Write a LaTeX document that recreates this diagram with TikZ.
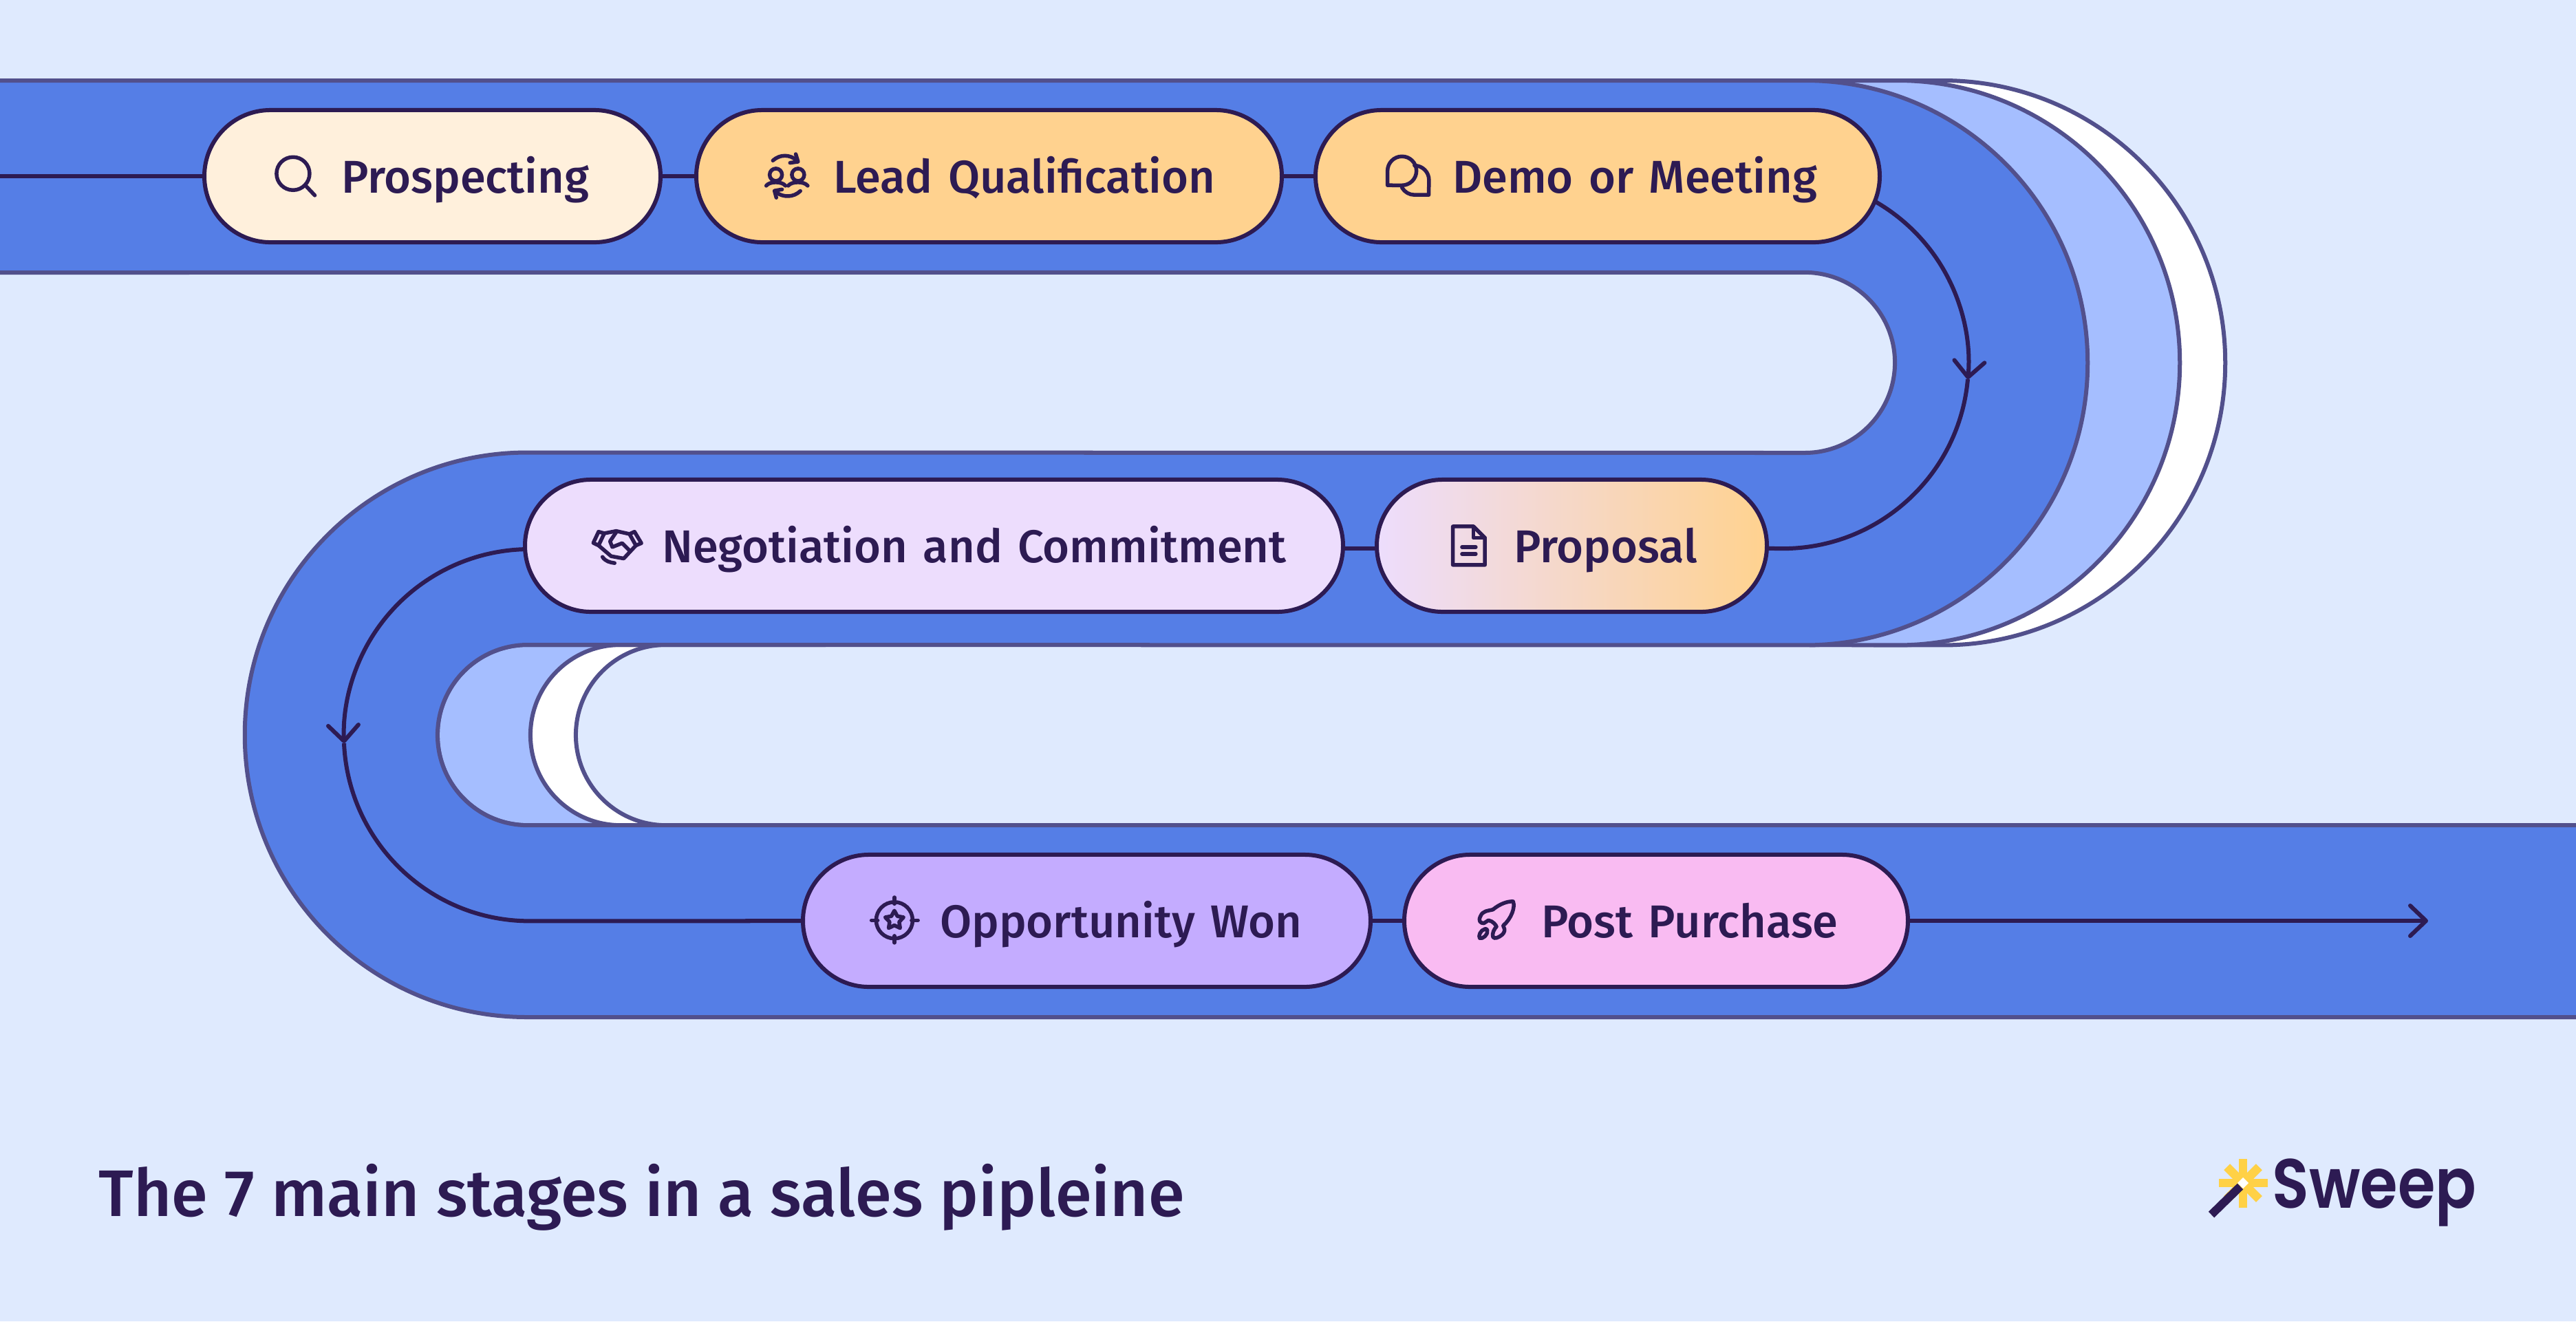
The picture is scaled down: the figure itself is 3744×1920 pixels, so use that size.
\documentclass[tikz,border=0pt]{standalone}
\usepackage{fontspec}
\setmainfont{Fira Sans}[UprightFont=* Medium]
\newfontfamily\logofont{Poppins}[UprightFont=* SemiBold, FakeStretch=0.87]
\usetikzlibrary{arrows.meta,backgrounds}

\definecolor{page}{HTML}{DFEAFE}
\definecolor{bandblue}{HTML}{557EE6}
\definecolor{bandedge}{HTML}{52508C}
\definecolor{paleblue}{HTML}{A5BEFF}
\definecolor{ink}{HTML}{2D1B53}
\definecolor{cream}{HTML}{FFF0DC}
\definecolor{peach}{HTML}{FFD28F}
\definecolor{lilac}{HTML}{EDDDFD}
\definecolor{violet}{HTML}{C4ACFF}
\definecolor{pinkish}{HTML}{F9BBF2}
\definecolor{spark}{HTML}{FFD146}

\tikzset{
    stage/.style={draw=ink, line width=.06cm, rounded corners=.96cm, text=ink,
        inner xsep=0pt, inner ysep=0pt, text width=#1*.01cm, minimum height=1.92cm,
        text height=.6cm, text depth=.12cm, align=left,
        font=\fontsize{19pt}{23pt}\selectfont,
        execute at begin node={\hspace*{1.99cm}}},
    link/.style={draw=ink, line width=.06cm},
    lobe/.style={draw=bandedge, line width=.06cm},
    icon/.style={draw=ink, line width=.055cm, line cap=round, line join=round},
    iconat/.style={shift={#1}, x=.00333cm, y=-.00333cm},
    >={Straight Barb[round,length=.23cm,width=.44cm]}
}

\begin{document}
\begin{tikzpicture}[x=.01cm, y=-.01cm]
    \useasboundingbox (0,0) rectangle (3744,1920);

    % The stages
    \node[stage=663, fill=cream] (prospecting) at (628.5,256) {Prospecting};
    \node[stage=851, fill=peach] (lead) at (1437.5,256) {Lead Qualification};
    \node[stage=820, fill=peach] (demo) at (2322,256) {Demo or Meeting};
    \node[stage=1189, fill=lilac] (negotiation) at (1357.5,793) {Negotiation and Commitment};
    \node[stage=567, left color=lilac, right color=peach] (proposal) at (2284.5,793) {Proposal};
    \node[stage=825, fill=violet] (opportunity) at (1579.5,1338) {Opportunity Won};
    \node[stage=732, fill=pinkish] (purchase) at (2407,1338) {Post Purchase};

    % Free ends of the connectors
    \coordinate (linestart) at (0,256);
    \coordinate (lineend) at (3529,1338);
    \coordinate (headright) at (2860,551);
    \coordinate (headleft) at (500,1080);

    \begin{scope}[on background layer]
        \fill[page] (0,0) rectangle (3744,1920);

        % Layers behind the road, right side
        \foreach \cx/\col in {2824/white, 2758/paleblue}
            \filldraw[lobe, fill=\col] (2630,117) -- (\cx,117) arc[start angle=90, end angle=-90, radius=4.1cm] -- (2630,937);
        \fill[page] (2600,396) -- (2623,396) arc[start angle=90, end angle=-90, radius=1.31cm] -- (2600,658) -- cycle;

        % Layers inside the lower bend
        \foreach \cx/\nx/\col in {767/902/paleblue, 902/968/white, 968/1200/page}
            \filldraw[lobe, fill=\col] (\nx,937) -- (\cx,937) arc[start angle=90, end angle=270, radius=1.31cm] -- (\nx,1199);

        % The road
        \filldraw[lobe, fill=bandblue] (-4,117) -- (2624,117) arc[start angle=90, end angle=-90, radius=4.1cm]
            -- (767,937) arc[start angle=90, end angle=270, radius=1.31cm]
            -- (3800,1199) -- (3800,1478) -- (766,1478) arc[start angle=270, end angle=90, radius=4.1cm]
            -- (2623,658) arc[start angle=-90, end angle=90, radius=1.31cm] -- (-4,396) -- cycle;

        % Connectors
        \draw[link] (linestart) -- (prospecting);
        \draw[link] (prospecting) -- (lead);
        \draw[link] (lead) -- (demo);
        \draw[link, ->] (demo.center) -- (2591,257) arc[start angle=90, end angle=-5.1, radius=2.7cm];
        \draw[link] (headright) arc[start angle=-5.1, end angle=-90, radius=2.7cm] -- (proposal.center);
        \draw[link] ([yshift=-.04cm]proposal.center) -- ([yshift=-.04cm]negotiation.center);
        \draw[link, ->] (negotiation.center) -- (770,798) arc[start angle=90, end angle=182.5, radius=2.7cm];
        \draw[link] (headleft) arc[start angle=182.5, end angle=270, radius=2.7cm] -- (opportunity);
        \draw[link] (opportunity) -- (purchase);
        \draw[link, ->] (purchase) -- (lineend);
    \end{scope}

    % Search
    \begin{scope}[iconat={(380,200)}]
        \draw[icon] (138,157) circle[radius=.24cm];
        \draw[icon] (197,214) -- (233,252);
    \end{scope}

    % Two people
    \begin{scope}[iconat={(1095,200)}]
        \draw[icon] (85,100) .. controls (115,72) and (160,72) .. (190,100);
        \draw[icon] (185,72) -- (195,105) -- (160,110);
        \draw[icon] (205,233) .. controls (175,262) and (130,262) .. (98,238);
        \draw[icon] (100,262) -- (92,232) -- (125,226);
        \draw[icon] (98,162) circle[radius=.09cm];
        \draw[icon] (195,162) circle[radius=.09cm];
        \draw[icon] (56,210) .. controls (70,190) and (125,190) .. (140,210);
        \draw[icon] (152,210) .. controls (167,190) and (222,190) .. (237,210);
    \end{scope}

    % Speech bubbles
    \begin{scope}[iconat={(1990,200)}]
        \draw[icon] (80,208) -- (80,145) arc[start angle=180, end angle=-90, radius=.21cm] -- cycle;
        \draw[icon] (198,122) arc[start angle=90, end angle=0, radius=.21cm] -- (260,250) -- (198,250) arc[start angle=-90, end angle=-150, radius=.21cm];
    \end{scope}

    % Document
    \begin{scope}[iconat={(2080,740)}]
        \draw[icon] (95,75) -- (185,75) -- (235,125) -- (235,243) -- (95,243) -- cycle;
        \draw[icon] (185,75) -- (185,125) -- (235,125);
        \draw[icon] (135,165) -- (195,165);
        \draw[icon] (135,195) -- (195,195);
    \end{scope}

    % Handshake
    \begin{scope}[iconat={(845,740)}]
        \draw[icon] (75,98) -- (100,105) -- (75,158) -- (52,147) -- cycle;
        \draw[icon] (232,98) -- (210,108) -- (238,158) -- (262,148) -- cycle;
        \draw[icon] (100,105) -- (152,95) -- (210,108);
        \draw[icon] (75,158) -- (130,205) -- (185,215) -- (238,158);
        \draw[icon] (152,100) -- (125,140) -- (135,165) -- (178,148) -- (212,182);
        \draw[icon] (92,208) .. controls (105,228) and (125,232) .. (145,235);
    \end{scope}

    % Target
    \begin{scope}[iconat={(1245,1280)}]
        \draw[icon] (165,172) circle[radius=.265cm];
        \draw[icon] (165,72) -- (165,100);
        \draw[icon] (165,240) -- (165,270);
        \draw[icon] (65,172) -- (92,172);
        \draw[icon] (240,172) -- (268,172);
        \draw[icon] (165,130) -- (178,154) -- (205,159) -- (186,179) -- (190,206) -- (165,194) -- (140,206) -- (144,179) -- (125,159) -- (152,154) -- cycle;
    \end{scope}

    % Rocket
    \begin{scope}[iconat={(2120,1280)}]
        \draw[icon] (150,125) .. controls (180,100) and (215,88) .. (238,90) .. controls (248,115) and (230,165) .. (195,195);
        \draw[icon] (150,125) .. controls (125,132) and (105,130) .. (95,155) .. controls (85,175) and (95,185) .. (110,185) -- (130,172) .. controls (150,175) and (165,195) .. (165,200);
        \draw[icon] (195,197) .. controls (205,215) and (200,225) .. (190,235) .. controls (175,248) and (155,255) .. (150,245) .. controls (145,230) and (155,210) .. (165,200);
        \draw[icon] (115,210) .. controls (95,215) and (85,240) .. (92,250) .. controls (105,255) and (130,235) .. (125,215) .. controls (124,210) and (118,208) .. cycle;
    \end{scope}

    % Title and logo
    \node[anchor=base west, inner sep=0pt, text=ink, font=\fontsize{27.2pt}{33pt}\selectfont] (title) at (143,1767) {The 7 main stages in a sales pipleine};
    \node[anchor=base west, inner sep=0pt, text=ink, font=\logofont\fontsize{28.8pt}{34pt}\selectfont] (sweep) at (3302,1755) {Sweep};

    \coordinate (logostar) at (3260,1719);
    \foreach \a in {0,90,180,270} \draw[spark, line width=.127cm] (logostar) -- ++(\a:.355cm);
    \foreach \a in {45,135,225,315} \draw[spark, line width=.127cm] (logostar) -- ++(\a:.33cm);
    \draw[ink, line width=.12cm] (3214,1765) -- (3256,1724);
    \fill[white] (3252,1719) -- (3260,1711) -- (3268,1719) -- (3260,1727) -- cycle;
\end{tikzpicture}
\end{document}
